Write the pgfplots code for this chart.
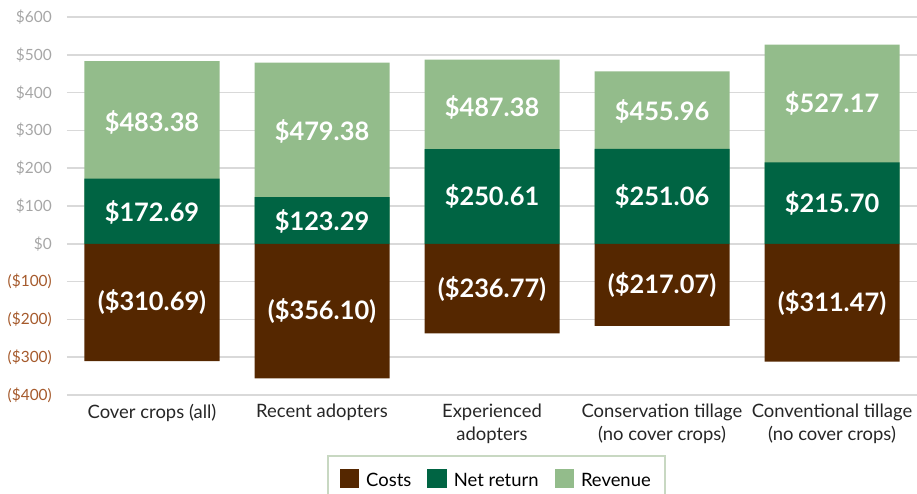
\documentclass[border=0pt]{standalone}
\usepackage{pgfplots}
\pgfplotsset{compat=1.18}
\usepackage{fontspec}
\setmainfont{Lato}

\definecolor{costc}{HTML}{552700}
\definecolor{netc}{HTML}{006443}
\definecolor{revc}{HTML}{93BC8B}
\definecolor{tickgray}{HTML}{A6A6A6}
\definecolor{negc}{HTML}{A55A2C}
\definecolor{gridc}{HTML}{D9D9D9}
\definecolor{legc}{HTML}{C8D8C2}

\begin{document}
\begin{tikzpicture}
\path[use as bounding box] (-67bp,-99bp) rectangle (850bp,395bp);
\begin{axis}[
  at={(0,0)}, anchor=south west,
  width=850bp, height=378bp, scale only axis,
  ybar, bar width=135bp, bar shift=0pt,
  xmin=-0.5, xmax=4.5, ymin=-400, ymax=600,
  axis line style={draw=none},
  major tick length=0pt,
  ymajorgrids, grid style={gridc, line width=1.5bp},
  ytick={-400,-300,...,600},
  yticklabels={\textcolor{negc}{(\$400)},\textcolor{negc}{(\$300)},\textcolor{negc}{(\$200)},\textcolor{negc}{(\$100)},\$0,\$100,\$200,\$300,\$400,\$500,\$600},
  yticklabel style={font=\fontsize{15.5}{18}\selectfont, text=tickgray, inner sep=0pt, xshift=-15bp},
  xtick={0,...,4},
  xticklabels={Cover crops (all),Recent adopters,Experienced\\adopters,Conservation tillage\\(no cover crops),Conventional tillage\\(no cover crops)},
  xticklabel style={font=\fontsize{18.5}{23}\selectfont, text={black!85}, align=center, anchor=north, inner sep=0pt, yshift=-9bp},
  legend columns=3,
  legend style={at={(0.505,-0.159)}, anchor=north, draw=legc, line width=1.5bp,
    font=\fontsize{18.5}{22}\selectfont, inner xsep=12bp, inner ysep=13bp,
    /tikz/every even column/.append style={column sep=14bp}},
  legend image code/.code={\fill[#1] (0bp,-7bp) rectangle (18bp,11bp); \path (23bp,0bp);},
]
% revenue total (drawn from 0, net return covers its lower part)
\addplot[fill=revc, draw=none, forget plot] coordinates {(0,483.38) (1,479.38) (2,487.38) (3,455.96) (4,527.17)};
% net return
\addplot[fill=netc, draw=none, forget plot] coordinates {(0,172.69) (1,123.29) (2,250.61) (3,251.06) (4,215.70)};
% costs
\addplot[fill=costc, draw=none, forget plot] coordinates {(0,-310.69) (1,-356.10) (2,-236.77) (3,-217.07) (4,-311.47)};

\addlegendimage{costc}\addlegendentry{Costs}
\addlegendimage{netc}\addlegendentry{Net return}
\addlegendimage{revc}\addlegendentry{Revenue}

\tikzset{val/.style={text=white, font=\fontsize{25.5}{28}\selectfont\bfseries, anchor=center}}
\node[val] at (axis cs:0,322.0) {\$483.38};
\node[val] at (axis cs:1,296.0) {\$479.38};
\node[val] at (axis cs:2,362.0) {\$487.38};
\node[val] at (axis cs:3,350.0) {\$455.96};
\node[val] at (axis cs:4,371.4) {\$527.17};
\node[val] at (axis cs:0,84.0) {\$172.69};
\node[val] at (axis cs:1,59.0) {\$123.29};
\node[val] at (axis cs:2,125.3) {\$250.61};
\node[val] at (axis cs:3,125.5) {\$251.06};
\node[val] at (axis cs:4,107.9) {\$215.70};
\node[val] at (axis cs:0,-155.3) {(\$310.69)};
\node[val] at (axis cs:1,-178.1) {(\$356.10)};
\node[val] at (axis cs:2,-118.4) {(\$236.77)};
\node[val] at (axis cs:3,-108.5) {(\$217.07)};
\node[val] at (axis cs:4,-155.7) {(\$311.47)};
\end{axis}
\end{tikzpicture}
\end{document}
